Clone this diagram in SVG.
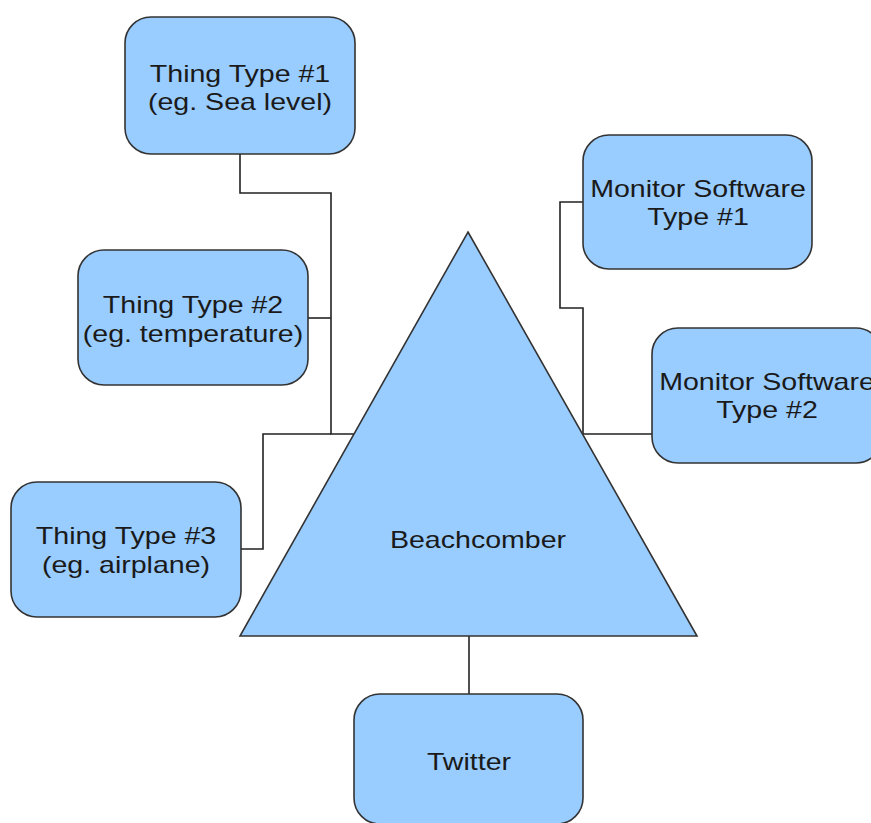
<svg xmlns="http://www.w3.org/2000/svg" width="871" height="823" viewBox="0 0 871 823">
<style>
.box{fill:#99ccff;stroke:#333333;stroke-width:1.6}
.lbl{font-family:"Liberation Sans",Arial,sans-serif;font-size:24px;fill:#1a1a1a;text-anchor:middle}
.con{fill:none;stroke:#222222;stroke-width:1.6}
</style>
<rect width="871" height="823" fill="#ffffff"/>
<g id="connectors">
<polyline class="con" points="240,154 240,193 331,193 331,434 355,434"/>
<line class="con" x1="308" y1="318" x2="331" y2="318"/>
<polyline class="con" points="241,549 263,549 263,434 331,434"/>
<polyline class="con" points="583,202 560,202 560,308 583,308 583,434 652,434"/>
<line class="con" x1="469" y1="636" x2="469" y2="694"/>
</g>
<g id="beachcomber">
<polygon class="box" points="468,232 697,636 240,636"/>
<text class="lbl" transform="translate(478 548) scale(1.19 1)">Beachcomber</text>
</g>
<g id="thing1">
<rect class="box" x="125" y="17" width="230" height="137" rx="26"/>
<text class="lbl" transform="translate(240 82) scale(1.19 1)">Thing Type #1</text>
<text class="lbl" transform="translate(240 110) scale(1.19 1)">(eg. Sea level)</text>
</g>
<g id="thing2">
<rect class="box" x="78" y="250" width="230" height="135" rx="26"/>
<text class="lbl" transform="translate(193 313) scale(1.19 1)">Thing Type #2</text>
<text class="lbl" transform="translate(193 342) scale(1.19 1)">(eg. temperature)</text>
</g>
<g id="thing3">
<rect class="box" x="11" y="482" width="230" height="135" rx="26"/>
<text class="lbl" transform="translate(126 544) scale(1.19 1)">Thing Type #3</text>
<text class="lbl" transform="translate(126 573) scale(1.19 1)">(eg. airplane)</text>
</g>
<g id="monitor1">
<rect class="box" x="583" y="135" width="229" height="134" rx="26"/>
<text class="lbl" transform="translate(698 197) scale(1.19 1)">Monitor Software</text>
<text class="lbl" transform="translate(698 225) scale(1.19 1)">Type #1</text>
</g>
<g id="monitor2">
<rect class="box" x="652" y="328" width="230" height="135" rx="26"/>
<text class="lbl" transform="translate(767 390) scale(1.19 1)">Monitor Software</text>
<text class="lbl" transform="translate(767 418) scale(1.19 1)">Type #2</text>
</g>
<g id="twitter">
<rect class="box" x="354" y="694" width="229" height="130" rx="26"/>
<text class="lbl" transform="translate(469 770) scale(1.19 1)">Twitter</text>
</g>
</svg>
